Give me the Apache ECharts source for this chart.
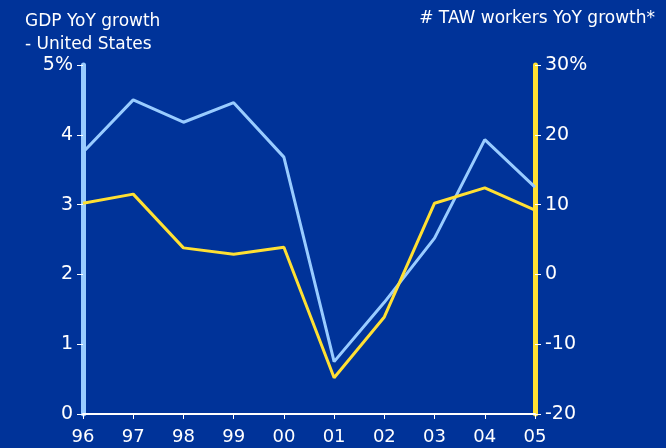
<!DOCTYPE html>
<html>
<head>
    <meta charset="UTF-8">
    <title>GDP vs TAW workers</title>
    <script src="https://cdn.jsdelivr.net/npm/echarts@6/dist/echarts.min.js"></script>
    <style>
        body { margin: 0; background: #003399; }
    </style>
</head>
<body>
<div id="chart" style="width:666px; height:448px;"></div>
<script>
    // data
    var years = ['96', '97', '98', '99', '00', '01', '02', '03', '04', '05'];
    var gdpGrowth = [3.75, 4.5, 4.18, 4.46, 3.68, 0.75, 1.6, 2.52, 3.93, 3.25];   // left axis, %
    var tawGrowth = [10.2, 11.5, 3.8, 2.9, 3.9, -14.8, -6.1, 10.2, 12.4, 9.2];    // right axis, %

    var font = 'DejaVu Sans';
    var chart = echarts.init(document.getElementById('chart'), null, {renderer: 'canvas'});

    var option = {
        backgroundColor: '#003399',
        textStyle: {fontFamily: font},
        title: [{
            text: 'GDP YoY growth\n- United States',
            left: 20, top: 5,
            textStyle: {color: '#ffffff', fontSize: 17, fontWeight: 'normal', lineHeight: 23, fontFamily: font}
        }, {
            text: '# TAW workers YoY growth*',
            right: 6, top: 5,
            textStyle: {color: '#ffffff', fontSize: 17, fontWeight: 'normal', fontFamily: font}
        }],
        grid: {left: 83, right: 131, top: 65, bottom: 34},
        xAxis: {
            type: 'category',
            boundaryGap: false,
            data: years,
            axisLine: {lineStyle: {color: '#ffffff', width: 2}},
            axisTick: {alignWithLabel: true, length: 5, lineStyle: {color: '#ffffff'}},
            axisLabel: {color: '#ffffff', fontSize: 18, margin: 14}
        },
        yAxis: [{
            type: 'value',
            position: 'left',
            min: 0, max: 5, interval: 1,
            axisLine: {show: true, lineStyle: {color: '#99ccff', width: 5}},
            axisTick: {show: true, length: 6, lineStyle: {color: '#ffffff'}},
            axisLabel: {
                color: '#ffffff', fontSize: 19, margin: 10,
                formatter: function (v) { return v === 5 ? '5%' : String(v); }
            },
            splitLine: {show: false}
        }, {
            type: 'value',
            position: 'right',
            min: -20, max: 30, interval: 10,
            axisLine: {show: true, lineStyle: {color: '#ffe033', width: 5}},
            axisTick: {show: true, length: 6, lineStyle: {color: '#ffffff'}},
            axisLabel: {
                color: '#ffffff', fontSize: 19, margin: 10,
                formatter: function (v) { return v === 30 ? '30%' : String(v); }
            },
            splitLine: {show: false}
        }],
        series: [{
            name: 'GDP',
            type: 'line',
            yAxisIndex: 0,
            data: gdpGrowth,
            symbol: 'none',
            lineStyle: {color: '#99ccff', width: 3}
        }, {
            name: 'TAW',
            type: 'line',
            yAxisIndex: 1,
            data: tawGrowth,
            symbol: 'none',
            lineStyle: {color: '#ffe033', width: 3}
        }]
    };
    chart.setOption(option);
</script>
</body>
</html>
